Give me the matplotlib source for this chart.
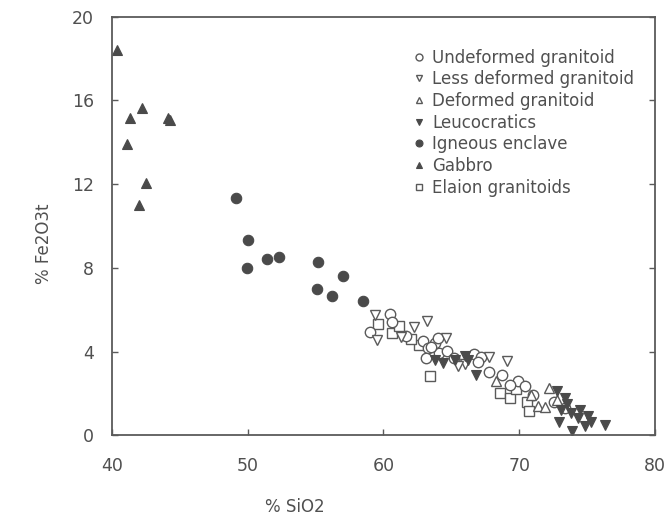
import matplotlib
matplotlib.use("Agg")
import matplotlib.pyplot as plt
from matplotlib.lines import Line2D

plt.rcParams['font.family'] = ['DejaVu Sans']

# ---- data (SiO2 %, Fe2O3t %) ----
undeformed_x = [60.5, 59.0, 60.6, 61.65, 62.9, 63.3, 63.8, 63.15, 64.1, 64.7, 64.0, 63.5,
                66.7, 67.2, 67.0, 67.8, 68.7, 69.9, 70.4, 72.6, 73.4, 65.2, 69.3, 71.0]
undeformed_y = [5.78, 4.92, 5.41, 4.76, 4.51, 4.15, 4.4, 3.67, 3.93, 4.02, 4.67, 4.2,
                3.89, 3.74, 3.5, 3.04, 2.9, 2.6, 2.37, 1.61, 1.3, 3.7, 2.4, 1.9]

less_def_x = [59.35, 59.5, 62.25, 63.2, 64.6, 67.8, 69.1, 66.0, 61.3, 65.5]
less_def_y = [5.76, 4.53, 5.17, 5.46, 4.65, 3.75, 3.54, 3.4, 4.7, 3.3]

deformed_x = [72.2, 71.4, 71.9, 70.9, 68.3, 72.8]
deformed_y = [2.24, 1.42, 1.35, 1.9, 2.6, 1.7]

leuco_x = [63.8, 64.4, 65.3, 66.2, 66.0, 66.85, 72.8, 73.35, 73.1, 73.85, 74.35, 75.1,
           72.9, 73.9, 74.85, 75.3, 76.3, 73.5, 74.5]
leuco_y = [3.6, 3.45, 3.6, 3.6, 3.8, 2.86, 2.09, 1.78, 1.22, 1.07, 0.84, 0.93,
           0.65, 0.19, 0.45, 0.62, 0.47, 1.5, 1.2]

enclave_x = [49.1, 50.0, 49.97, 51.4, 52.3, 55.2, 57.0, 55.1, 56.2, 58.5]
enclave_y = [11.35, 9.34, 7.97, 8.4, 8.54, 8.27, 7.6, 6.97, 6.66, 6.43]

gabbro_x = [40.4, 42.2, 41.3, 44.1, 44.3, 41.1, 42.5, 42.0]
gabbro_y = [18.4, 15.65, 15.15, 15.15, 15.05, 13.9, 12.06, 11.0]

elaion_x = [59.6, 60.6, 61.15, 62.65, 63.4, 68.6, 69.3, 70.55, 70.7, 62.0, 69.8]
elaion_y = [5.34, 4.9, 5.23, 4.3, 2.83, 2.01, 1.79, 1.57, 1.17, 4.6, 2.2]

labels = ["Undeformed granitoid", "Less deformed granitoid", "Deformed granitoid",
          "Leucocratics", "Igneous enclave", "Gabbro", "Elaion granitoids"]

x_ticks = [40, 50, 60, 70, 80]
y_ticks = [0, 4, 8, 12, 16, 20]

dark = "#4a4a4a"
edge = "#5a5a5a"
txt = "#505050"

fig = plt.figure(figsize=(6.71, 5.25), dpi=100)
ax = fig.add_axes([0.167, 0.171, 0.809, 0.797])

ms = 7.5
open_kw = dict(linestyle="none", markerfacecolor="white", markeredgecolor=edge,
               markeredgewidth=1.0)
fill_kw = dict(linestyle="none", markerfacecolor=dark, markeredgecolor=dark,
               markeredgewidth=0.8)

ax.plot(elaion_x, elaion_y, marker="s", markersize=ms, **open_kw)
ax.plot(undeformed_x, undeformed_y, marker="o", markersize=ms, **open_kw)
ax.plot(less_def_x, less_def_y, marker="v", markersize=ms, **open_kw)
ax.plot(deformed_x, deformed_y, marker="^", markersize=ms, **open_kw)
ax.plot(leuco_x, leuco_y, marker="v", markersize=ms, **fill_kw)
ax.plot(enclave_x, enclave_y, marker="o", markersize=ms, **fill_kw)
ax.plot(gabbro_x, gabbro_y, marker="^", markersize=ms, **fill_kw)

ax.set_xlim(40, 80)
ax.set_ylim(0, 20)
ax.set_xticks(x_ticks)
ax.set_yticks(y_ticks)
ax.tick_params(direction="in", length=4, width=1, color=edge,
               labelsize=12.5, labelcolor=txt, right=True)
ax.tick_params(axis="y", pad=13)
ax.tick_params(axis="x", pad=16)
for s in ax.spines.values():
    s.set_color(edge)
    s.set_linewidth(1.3)

fig.text(0.44, 0.025, "% SiO2", fontsize=12, color=txt, ha="center")
fig.text(0.065, 0.535, "% Fe2O3t", fontsize=12, color=txt, rotation=90,
         ha="center", va="center")

lm = 5
handles = [
    Line2D([], [], marker="o", markersize=lm, **open_kw),
    Line2D([], [], marker="v", markersize=lm, **open_kw),
    Line2D([], [], marker="^", markersize=lm, **open_kw),
    Line2D([], [], marker="v", markersize=lm, **fill_kw),
    Line2D([], [], marker="o", markersize=lm, **fill_kw),
    Line2D([], [], marker="^", markersize=lm, **fill_kw),
    Line2D([], [], marker="s", markersize=lm, **open_kw),
]
leg = ax.legend(handles, labels, loc="upper left", bbox_to_anchor=(0.545, 0.94),
                frameon=False, fontsize=12, handlelength=0.5, handletextpad=0.55,
                labelspacing=0.22, borderaxespad=0)
for t in leg.get_texts():
    t.set_color(txt)

fig.savefig("out.png", dpi=100)
